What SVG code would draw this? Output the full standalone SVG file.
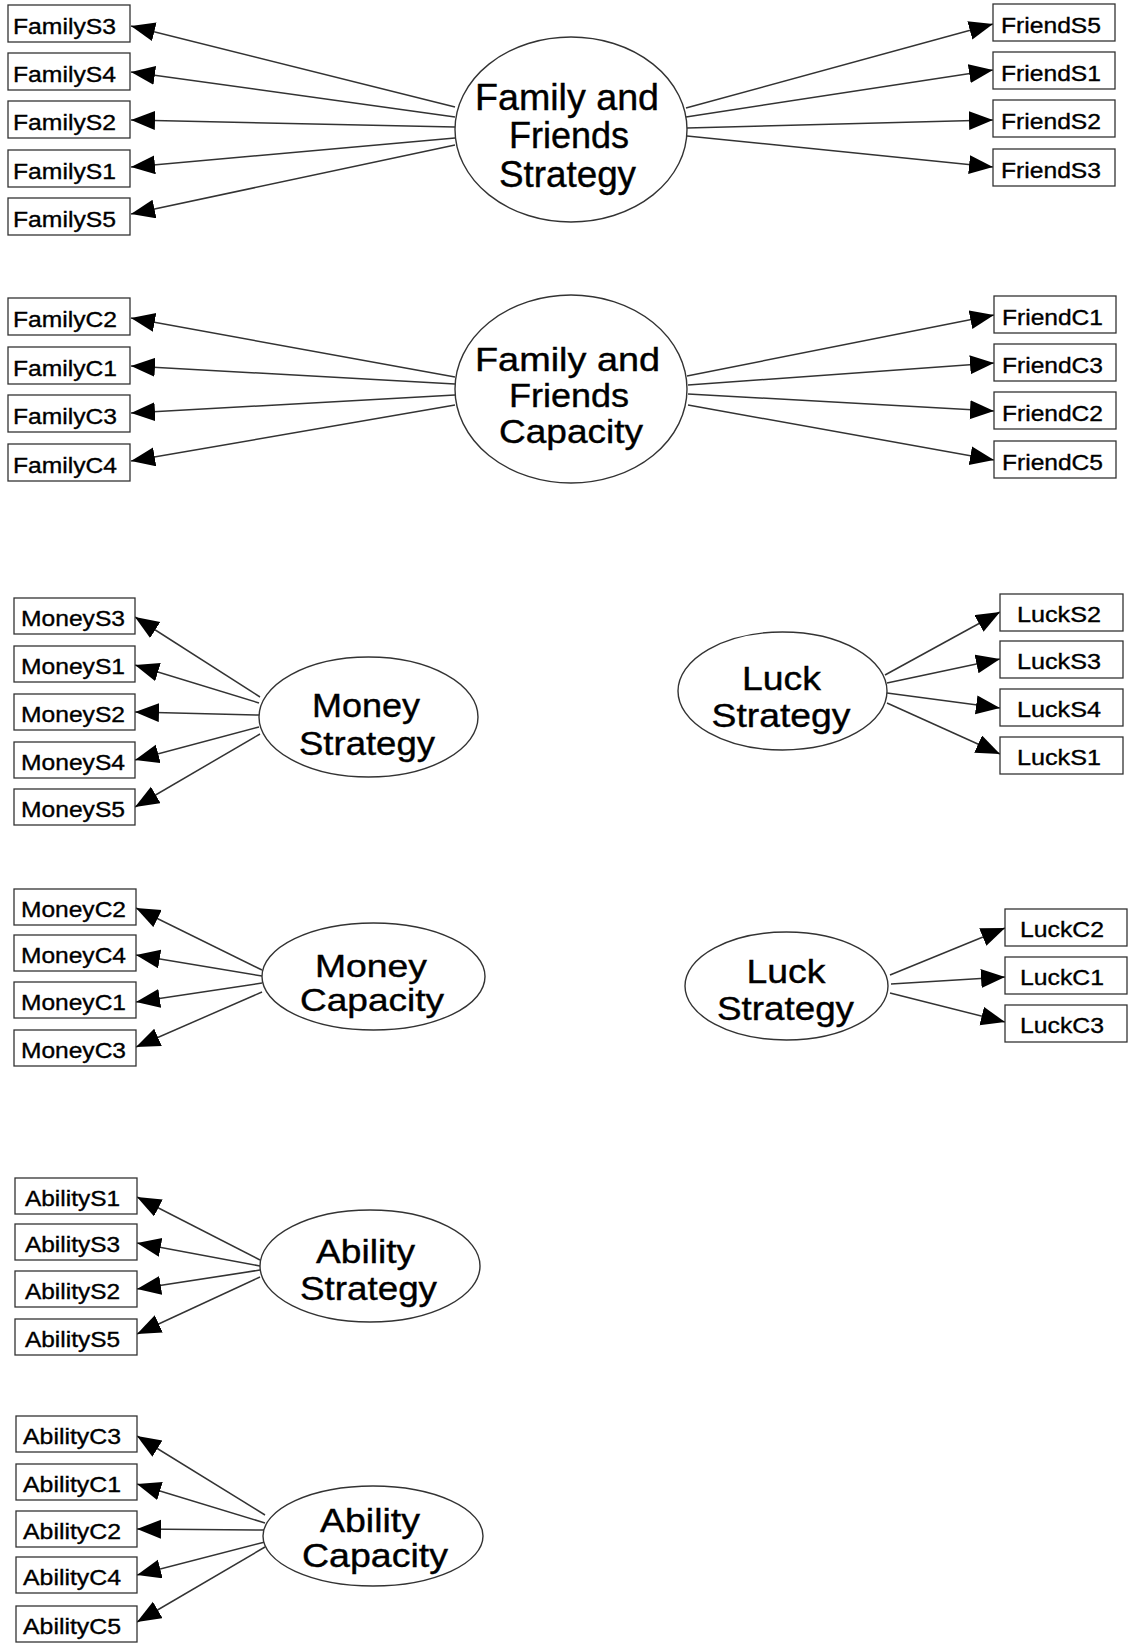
<svg xmlns="http://www.w3.org/2000/svg" width="1129" height="1643" viewBox="0 0 1129 1643">
<style>
.box{fill:#fff;stroke:#333;stroke-width:1.3}
.lat{fill:#fff;stroke:#333;stroke-width:1.4}
.lbl{font-family:"Liberation Sans",Arial,sans-serif;font-size:22px;fill:#000;stroke:#000;stroke-width:0.35}
.big{font-family:"Liberation Sans",Arial,sans-serif;font-size:34px;fill:#000;stroke:#000;stroke-width:0.4;text-anchor:middle}
.edge{stroke:#333;stroke-width:1.5;fill:none;marker-end:url(#ah)}
</style>
<defs>
<marker id="ah" markerUnits="userSpaceOnUse" markerWidth="26" markerHeight="21" refX="24" refY="9.5" orient="auto">
<path d="M0,0 L24,9.5 L0,19 z" fill="#000"/>
</marker>
</defs>
<rect width="1129" height="1643" fill="#fff"/>

<g id="connectors">
<path class="edge" d="M455,107 L131,26"/>
<path class="edge" d="M455,117 L131,72"/>
<path class="edge" d="M455,127 L131,120"/>
<path class="edge" d="M455,138 L131,167"/>
<path class="edge" d="M455,145 L131,214"/>
<path class="edge" d="M686,108 L993,24"/>
<path class="edge" d="M686,117 L993,70"/>
<path class="edge" d="M687,128 L993,120"/>
<path class="edge" d="M687,136 L993,167"/>

<path class="edge" d="M455,377 L131,318"/>
<path class="edge" d="M455,384 L131,366"/>
<path class="edge" d="M455,395 L131,413"/>
<path class="edge" d="M455,405 L131,461"/>
<path class="edge" d="M687,376 L994,315"/>
<path class="edge" d="M688,385 L994,363"/>
<path class="edge" d="M688,394 L994,411"/>
<path class="edge" d="M688,405 L994,460"/>

<path class="edge" d="M260,697 L135,617"/>
<path class="edge" d="M259,703 L135,665"/>
<path class="edge" d="M259,715 L135,712"/>
<path class="edge" d="M259,727 L135,760"/>
<path class="edge" d="M260,734 L135,807"/>

<path class="edge" d="M885,675 L1000,612"/>
<path class="edge" d="M887,683 L1000,659"/>
<path class="edge" d="M887,693 L1000,708"/>
<path class="edge" d="M887,703 L1000,754"/>

<path class="edge" d="M262,970 L136,908"/>
<path class="edge" d="M262,976 L136,955"/>
<path class="edge" d="M262,983 L136,1002"/>
<path class="edge" d="M262,992 L136,1047"/>

<path class="edge" d="M890,975 L1005,928"/>
<path class="edge" d="M891,984 L1005,977"/>
<path class="edge" d="M890,993 L1005,1022"/>

<path class="edge" d="M260,1260 L137,1197"/>
<path class="edge" d="M260,1266 L137,1243"/>
<path class="edge" d="M260,1270 L137,1289"/>
<path class="edge" d="M260,1277 L137,1334"/>

<path class="edge" d="M265,1515 L137,1436"/>
<path class="edge" d="M265,1523 L137,1484"/>
<path class="edge" d="M265,1530 L137,1529"/>
<path class="edge" d="M265,1542 L137,1575"/>
<path class="edge" d="M265,1547 L137,1622"/>
</g>

<!-- latent variables -->
<g id="FamilyFriendsStrategy"><ellipse class="lat" cx="571" cy="129.5" rx="116" ry="92.5"/>
<text class="big" style="font-size:36px" x="567" y="110" textLength="184" lengthAdjust="spacingAndGlyphs">Family and</text>
<text class="big" style="font-size:36px" x="569" y="148" textLength="120" lengthAdjust="spacingAndGlyphs">Friends</text>
<text class="big" style="font-size:36px" x="567.5" y="187" textLength="137" lengthAdjust="spacingAndGlyphs">Strategy</text></g>

<g id="FamilyFriendsCapacity"><ellipse class="lat" cx="571" cy="389" rx="116" ry="94"/>
<text class="big" x="567.5" y="371" textLength="185" lengthAdjust="spacingAndGlyphs">Family and</text>
<text class="big" x="569" y="407" textLength="120" lengthAdjust="spacingAndGlyphs">Friends</text>
<text class="big" x="571" y="443" textLength="144" lengthAdjust="spacingAndGlyphs">Capacity</text></g>

<g id="MoneyStrategy"><ellipse class="lat" cx="368.5" cy="717" rx="109.5" ry="60"/>
<text class="big" x="366" y="717" textLength="108" lengthAdjust="spacingAndGlyphs">Money</text>
<text class="big" x="367" y="755" textLength="136" lengthAdjust="spacingAndGlyphs">Strategy</text></g>

<g id="LuckStrategy"><ellipse class="lat" cx="782.5" cy="691" rx="104.5" ry="59"/>
<text class="big" x="781.5" y="690" textLength="79" lengthAdjust="spacingAndGlyphs">Luck</text>
<text class="big" x="781" y="727" textLength="139" lengthAdjust="spacingAndGlyphs">Strategy</text></g>

<g id="MoneyCapacity"><ellipse class="lat" cx="373.5" cy="976.5" rx="111.5" ry="53.5"/>
<text class="big" style="font-size:32px" x="371" y="977" textLength="112" lengthAdjust="spacingAndGlyphs">Money</text>
<text class="big" style="font-size:32px" x="372" y="1011" textLength="144" lengthAdjust="spacingAndGlyphs">Capacity</text></g>

<g id="LuckStrategy2"><ellipse class="lat" cx="786.5" cy="986" rx="101.5" ry="54"/>
<text class="big" x="786" y="983" textLength="79" lengthAdjust="spacingAndGlyphs">Luck</text>
<text class="big" x="785.5" y="1020" textLength="137" lengthAdjust="spacingAndGlyphs">Strategy</text></g>

<g id="AbilityStrategy"><ellipse class="lat" cx="370" cy="1266" rx="110" ry="56"/>
<text class="big" x="365.5" y="1263" textLength="99" lengthAdjust="spacingAndGlyphs">Ability</text>
<text class="big" x="368.5" y="1300" textLength="137" lengthAdjust="spacingAndGlyphs">Strategy</text></g>

<g id="AbilityCapacity"><ellipse class="lat" cx="373" cy="1536" rx="110" ry="50"/>
<text class="big" x="370" y="1532" textLength="100" lengthAdjust="spacingAndGlyphs">Ability</text>
<text class="big" x="375" y="1567" textLength="146" lengthAdjust="spacingAndGlyphs">Capacity</text></g>

<!-- observed variables -->
<g id="FamilyS3"><rect class="box" x="8" y="5" width="122" height="37"/><text class="lbl" x="13" y="34" textLength="103" lengthAdjust="spacingAndGlyphs">FamilyS3</text></g>
<g id="FamilyS4"><rect class="box" x="8" y="53" width="122" height="37"/><text class="lbl" x="13" y="82" textLength="103" lengthAdjust="spacingAndGlyphs">FamilyS4</text></g>
<g id="FamilyS2"><rect class="box" x="8" y="101" width="122" height="37"/><text class="lbl" x="13" y="130" textLength="103" lengthAdjust="spacingAndGlyphs">FamilyS2</text></g>
<g id="FamilyS1"><rect class="box" x="8" y="150" width="122" height="37"/><text class="lbl" x="13" y="179" textLength="103" lengthAdjust="spacingAndGlyphs">FamilyS1</text></g>
<g id="FamilyS5"><rect class="box" x="8" y="198" width="122" height="37"/><text class="lbl" x="13" y="227" textLength="103" lengthAdjust="spacingAndGlyphs">FamilyS5</text></g>

<g id="FriendS5"><rect class="box" x="993" y="4" width="122" height="37"/><text class="lbl" x="1001" y="33" textLength="100" lengthAdjust="spacingAndGlyphs">FriendS5</text></g>
<g id="FriendS1"><rect class="box" x="993" y="52" width="122" height="37"/><text class="lbl" x="1001" y="81" textLength="100" lengthAdjust="spacingAndGlyphs">FriendS1</text></g>
<g id="FriendS2"><rect class="box" x="993" y="100" width="122" height="37"/><text class="lbl" x="1001" y="129" textLength="100" lengthAdjust="spacingAndGlyphs">FriendS2</text></g>
<g id="FriendS3"><rect class="box" x="993" y="149" width="122" height="37"/><text class="lbl" x="1001" y="178" textLength="100" lengthAdjust="spacingAndGlyphs">FriendS3</text></g>

<g id="FamilyC2"><rect class="box" x="8" y="298" width="122" height="37"/><text class="lbl" x="13" y="327" textLength="104" lengthAdjust="spacingAndGlyphs">FamilyC2</text></g>
<g id="FamilyC1"><rect class="box" x="8" y="347" width="122" height="37"/><text class="lbl" x="13" y="376" textLength="104" lengthAdjust="spacingAndGlyphs">FamilyC1</text></g>
<g id="FamilyC3"><rect class="box" x="8" y="395" width="122" height="37"/><text class="lbl" x="13" y="424" textLength="104" lengthAdjust="spacingAndGlyphs">FamilyC3</text></g>
<g id="FamilyC4"><rect class="box" x="8" y="444" width="122" height="37"/><text class="lbl" x="13" y="473" textLength="104" lengthAdjust="spacingAndGlyphs">FamilyC4</text></g>

<g id="FriendC1"><rect class="box" x="994" y="296" width="122" height="37"/><text class="lbl" x="1002" y="325" textLength="101" lengthAdjust="spacingAndGlyphs">FriendC1</text></g>
<g id="FriendC3"><rect class="box" x="994" y="344" width="122" height="37"/><text class="lbl" x="1002" y="373" textLength="101" lengthAdjust="spacingAndGlyphs">FriendC3</text></g>
<g id="FriendC2"><rect class="box" x="994" y="392" width="122" height="37"/><text class="lbl" x="1002" y="421" textLength="101" lengthAdjust="spacingAndGlyphs">FriendC2</text></g>
<g id="FriendC5"><rect class="box" x="994" y="441" width="122" height="37"/><text class="lbl" x="1002" y="470" textLength="101" lengthAdjust="spacingAndGlyphs">FriendC5</text></g>

<g id="MoneyS3"><rect class="box" x="14" y="598" width="121" height="36"/><text class="lbl" x="21" y="626" textLength="104" lengthAdjust="spacingAndGlyphs">MoneyS3</text></g>
<g id="MoneyS1"><rect class="box" x="14" y="646" width="121" height="36"/><text class="lbl" x="21" y="674" textLength="104" lengthAdjust="spacingAndGlyphs">MoneyS1</text></g>
<g id="MoneyS2"><rect class="box" x="14" y="694" width="121" height="36"/><text class="lbl" x="21" y="722" textLength="104" lengthAdjust="spacingAndGlyphs">MoneyS2</text></g>
<g id="MoneyS4"><rect class="box" x="14" y="742" width="121" height="36"/><text class="lbl" x="21" y="770" textLength="104" lengthAdjust="spacingAndGlyphs">MoneyS4</text></g>
<g id="MoneyS5"><rect class="box" x="14" y="789" width="121" height="36"/><text class="lbl" x="21" y="817" textLength="104" lengthAdjust="spacingAndGlyphs">MoneyS5</text></g>

<g id="LuckS2"><rect class="box" x="1000" y="594" width="123" height="37"/><text class="lbl" x="1017" y="622" textLength="84" lengthAdjust="spacingAndGlyphs">LuckS2</text></g>
<g id="LuckS3"><rect class="box" x="1000" y="641" width="123" height="37"/><text class="lbl" x="1017" y="669" textLength="84" lengthAdjust="spacingAndGlyphs">LuckS3</text></g>
<g id="LuckS4"><rect class="box" x="1000" y="689" width="123" height="37"/><text class="lbl" x="1017" y="717" textLength="84" lengthAdjust="spacingAndGlyphs">LuckS4</text></g>
<g id="LuckS1"><rect class="box" x="1000" y="737" width="123" height="37"/><text class="lbl" x="1017" y="765" textLength="84" lengthAdjust="spacingAndGlyphs">LuckS1</text></g>

<g id="MoneyC2"><rect class="box" x="14" y="889" width="122" height="36"/><text class="lbl" x="21" y="917" textLength="105" lengthAdjust="spacingAndGlyphs">MoneyC2</text></g>
<g id="MoneyC4"><rect class="box" x="14" y="935" width="122" height="36"/><text class="lbl" x="21" y="963" textLength="105" lengthAdjust="spacingAndGlyphs">MoneyC4</text></g>
<g id="MoneyC1"><rect class="box" x="14" y="982" width="122" height="36"/><text class="lbl" x="21" y="1010" textLength="105" lengthAdjust="spacingAndGlyphs">MoneyC1</text></g>
<g id="MoneyC3"><rect class="box" x="14" y="1030" width="122" height="36"/><text class="lbl" x="21" y="1058" textLength="105" lengthAdjust="spacingAndGlyphs">MoneyC3</text></g>

<g id="LuckC2"><rect class="box" x="1005" y="909" width="122" height="37"/><text class="lbl" x="1020" y="937" textLength="84" lengthAdjust="spacingAndGlyphs">LuckC2</text></g>
<g id="LuckC1"><rect class="box" x="1005" y="957" width="122" height="37"/><text class="lbl" x="1020" y="985" textLength="84" lengthAdjust="spacingAndGlyphs">LuckC1</text></g>
<g id="LuckC3"><rect class="box" x="1005" y="1005" width="122" height="37"/><text class="lbl" x="1020" y="1033" textLength="84" lengthAdjust="spacingAndGlyphs">LuckC3</text></g>

<g id="AbilityS1"><rect class="box" x="15" y="1178" width="122" height="36"/><text class="lbl" x="25" y="1206" textLength="95" lengthAdjust="spacingAndGlyphs">AbilityS1</text></g>
<g id="AbilityS3"><rect class="box" x="15" y="1224" width="122" height="36"/><text class="lbl" x="25" y="1252" textLength="95" lengthAdjust="spacingAndGlyphs">AbilityS3</text></g>
<g id="AbilityS2"><rect class="box" x="15" y="1271" width="122" height="36"/><text class="lbl" x="25" y="1299" textLength="95" lengthAdjust="spacingAndGlyphs">AbilityS2</text></g>
<g id="AbilityS5"><rect class="box" x="15" y="1319" width="122" height="36"/><text class="lbl" x="25" y="1347" textLength="95" lengthAdjust="spacingAndGlyphs">AbilityS5</text></g>

<g id="AbilityC3"><rect class="box" x="16" y="1416" width="121" height="36"/><text class="lbl" x="23" y="1444" textLength="98" lengthAdjust="spacingAndGlyphs">AbilityC3</text></g>
<g id="AbilityC1"><rect class="box" x="16" y="1464" width="121" height="36"/><text class="lbl" x="23" y="1492" textLength="98" lengthAdjust="spacingAndGlyphs">AbilityC1</text></g>
<g id="AbilityC2"><rect class="box" x="16" y="1511" width="121" height="36"/><text class="lbl" x="23" y="1539" textLength="98" lengthAdjust="spacingAndGlyphs">AbilityC2</text></g>
<g id="AbilityC4"><rect class="box" x="16" y="1557" width="121" height="36"/><text class="lbl" x="23" y="1585" textLength="98" lengthAdjust="spacingAndGlyphs">AbilityC4</text></g>
<g id="AbilityC5"><rect class="box" x="16" y="1606" width="121" height="36"/><text class="lbl" x="23" y="1634" textLength="98" lengthAdjust="spacingAndGlyphs">AbilityC5</text></g>
</svg>
